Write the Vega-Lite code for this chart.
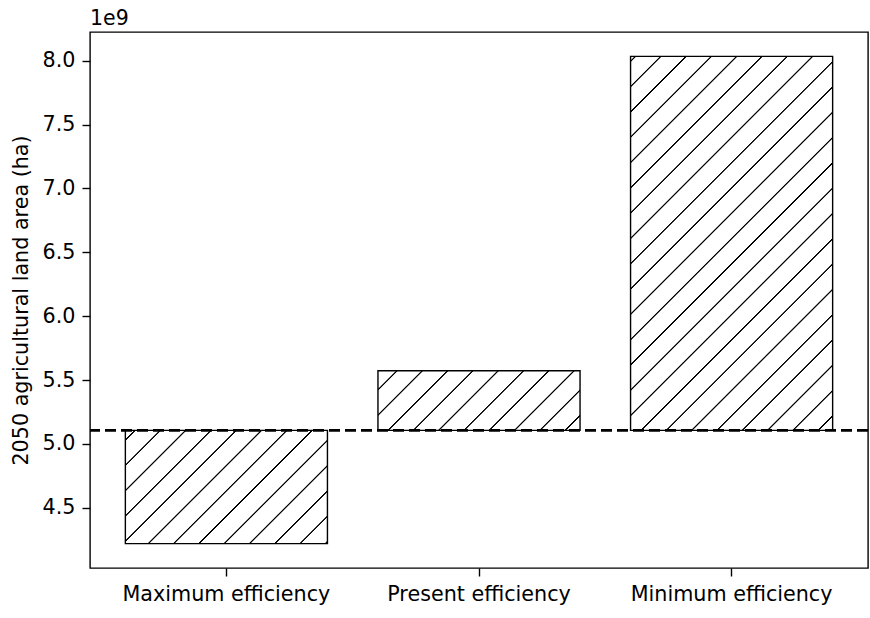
{
  "$schema": "https://vega.github.io/schema/vega-lite/v6.json",
  "autosize": {"type": "none"},
  "padding": {"left": 90, "top": 32, "right": 2, "bottom": 50},
  "width": 778,
  "height": 536,
  "background": "white",
  "title": {"text": "1e9", "anchor": "start", "frame": "group", "font": "DejaVu Sans", "fontSize": 20.5, "fontWeight": "normal", "color": "black", "offset": 3},
  "config": {
    "view": {"stroke": "black", "strokeWidth": 1.4},
    "axis": {"labelFont": "DejaVu Sans", "titleFont": "DejaVu Sans", "labelFontSize": 20.7, "titleFontSize": 20.7, "labelColor": "black", "titleColor": "black", "tickColor": "black", "domain": false, "grid": false, "tickSize": 8, "tickWidth": 1.4, "titleFontWeight": "normal", "labelLimit": 0}
  },
  "datasets": {
    "bars": [
      {"scenario": "Maximum efficiency", "area": 4219000000, "baseline": 5106000000},
      {"scenario": "Present efficiency", "area": 5573000000, "baseline": 5106000000},
      {"scenario": "Minimum efficiency", "area": 8034000000, "baseline": 5106000000}
    ],
    "ref": [{"baseline": 5106000000}]
  },
  "layer": [
    {
      "data": {"name": "bars"},
      "encoding": {
        "x": {"field": "scenario", "type": "nominal", "scale": {"domain": ["Maximum efficiency", "Present efficiency", "Minimum efficiency"], "paddingInner": 0.2, "paddingOuter": 0.14}, "axis": {"title": null, "labelAngle": 0, "labelPadding": 8}},
        "y": {"field": "area", "type": "quantitative", "scale": {"domain": [4028000000, 8225000000], "nice": false, "zero": false}, "axis": {"title": "2050 agricultural land area (ha)", "values": [4500000000, 5000000000, 5500000000, 6000000000, 6500000000, 7000000000, 7500000000, 8000000000], "labelExpr": "format(datum.value / 1e9, '.1f')", "labelPadding": 7, "titlePadding": 11}},
        "y2": {"field": "baseline"}
      },
      "layer": [
        {
          "transform": [{"filter": "datum.scenario === 'Maximum efficiency'"}],
          "mark": {"type": "bar", "stroke": "black", "strokeWidth": 1.4, "fill": {"gradient": "linear", "x1": 0, "y1": 0, "x2": 1.1874, "y2": 0.6657, "stops": [
            {"offset": 0, "color": "white"},
            {"offset": 0.0268, "color": "white"}, {"offset": 0.0293, "color": "black"}, {"offset": 0.0325, "color": "black"}, {"offset": 0.0350, "color": "white"},
            {"offset": 0.1070, "color": "white"}, {"offset": 0.1095, "color": "black"}, {"offset": 0.1127, "color": "black"}, {"offset": 0.1152, "color": "white"},
            {"offset": 0.1872, "color": "white"}, {"offset": 0.1897, "color": "black"}, {"offset": 0.1929, "color": "black"}, {"offset": 0.1954, "color": "white"},
            {"offset": 0.2674, "color": "white"}, {"offset": 0.2700, "color": "black"}, {"offset": 0.2731, "color": "black"}, {"offset": 0.2757, "color": "white"},
            {"offset": 0.3476, "color": "white"}, {"offset": 0.3502, "color": "black"}, {"offset": 0.3534, "color": "black"}, {"offset": 0.3559, "color": "white"},
            {"offset": 0.4279, "color": "white"}, {"offset": 0.4304, "color": "black"}, {"offset": 0.4336, "color": "black"}, {"offset": 0.4361, "color": "white"},
            {"offset": 0.5081, "color": "white"}, {"offset": 0.5106, "color": "black"}, {"offset": 0.5138, "color": "black"}, {"offset": 0.5163, "color": "white"},
            {"offset": 0.5883, "color": "white"}, {"offset": 0.5908, "color": "black"}, {"offset": 0.5940, "color": "black"}, {"offset": 0.5965, "color": "white"},
            {"offset": 0.6685, "color": "white"}, {"offset": 0.6711, "color": "black"}, {"offset": 0.6742, "color": "black"}, {"offset": 0.6768, "color": "white"},
            {"offset": 0.7487, "color": "white"}, {"offset": 0.7513, "color": "black"}, {"offset": 0.7544, "color": "black"}, {"offset": 0.7570, "color": "white"},
            {"offset": 0.8290, "color": "white"}, {"offset": 0.8315, "color": "black"}, {"offset": 0.8347, "color": "black"}, {"offset": 0.8372, "color": "white"},
            {"offset": 0.9092, "color": "white"}, {"offset": 0.9117, "color": "black"}, {"offset": 0.9149, "color": "black"}, {"offset": 0.9174, "color": "white"},
            {"offset": 0.9894, "color": "white"}, {"offset": 0.9920, "color": "black"}, {"offset": 0.9951, "color": "black"}, {"offset": 0.9977, "color": "white"},
            {"offset": 1, "color": "white"}
          ]}}
        },
        {
          "transform": [{"filter": "datum.scenario === 'Present efficiency'"}],
          "mark": {"type": "bar", "stroke": "black", "strokeWidth": 1.4, "fill": {"gradient": "linear", "x1": 0, "y1": 0, "x2": 1.1913, "y2": 0.3514, "stops": [
            {"offset": 0, "color": "white"},
            {"offset": 0.0682, "color": "white"}, {"offset": 0.0712, "color": "black"}, {"offset": 0.0751, "color": "black"}, {"offset": 0.0781, "color": "white"},
            {"offset": 0.1649, "color": "white"}, {"offset": 0.1679, "color": "black"}, {"offset": 0.1717, "color": "black"}, {"offset": 0.1748, "color": "white"},
            {"offset": 0.2615, "color": "white"}, {"offset": 0.2646, "color": "black"}, {"offset": 0.2684, "color": "black"}, {"offset": 0.2715, "color": "white"},
            {"offset": 0.3582, "color": "white"}, {"offset": 0.3613, "color": "black"}, {"offset": 0.3651, "color": "black"}, {"offset": 0.3682, "color": "white"},
            {"offset": 0.4549, "color": "white"}, {"offset": 0.4580, "color": "black"}, {"offset": 0.4618, "color": "black"}, {"offset": 0.4648, "color": "white"},
            {"offset": 0.5516, "color": "white"}, {"offset": 0.5547, "color": "black"}, {"offset": 0.5585, "color": "black"}, {"offset": 0.5615, "color": "white"},
            {"offset": 0.6483, "color": "white"}, {"offset": 0.6513, "color": "black"}, {"offset": 0.6552, "color": "black"}, {"offset": 0.6582, "color": "white"},
            {"offset": 0.7450, "color": "white"}, {"offset": 0.7480, "color": "black"}, {"offset": 0.7518, "color": "black"}, {"offset": 0.7549, "color": "white"},
            {"offset": 0.8416, "color": "white"}, {"offset": 0.8447, "color": "black"}, {"offset": 0.8485, "color": "black"}, {"offset": 0.8516, "color": "white"},
            {"offset": 0.9383, "color": "white"}, {"offset": 0.9414, "color": "black"}, {"offset": 0.9452, "color": "black"}, {"offset": 0.9483, "color": "white"},
            {"offset": 1, "color": "white"}
          ]}}
        },
        {
          "transform": [{"filter": "datum.scenario === 'Minimum efficiency'"}],
          "mark": {"type": "bar", "stroke": "black", "strokeWidth": 1.4, "fill": {"gradient": "linear", "x1": 0, "y1": 0, "x2": 0.6444, "y2": 1.1922, "stops": [
            {"offset": 0, "color": "white"},
            {"offset": 0.00632, "color": "white"}, {"offset": 0.00771, "color": "black"}, {"offset": 0.00945, "color": "black"}, {"offset": 0.01083, "color": "white"},
            {"offset": 0.05025, "color": "white"}, {"offset": 0.05163, "color": "black"}, {"offset": 0.05337, "color": "black"}, {"offset": 0.05476, "color": "white"},
            {"offset": 0.09417, "color": "white"}, {"offset": 0.09556, "color": "black"}, {"offset": 0.09730, "color": "black"}, {"offset": 0.09868, "color": "white"},
            {"offset": 0.13810, "color": "white"}, {"offset": 0.13948, "color": "black"}, {"offset": 0.14122, "color": "black"}, {"offset": 0.14261, "color": "white"},
            {"offset": 0.18202, "color": "white"}, {"offset": 0.18341, "color": "black"}, {"offset": 0.18515, "color": "black"}, {"offset": 0.18653, "color": "white"},
            {"offset": 0.22595, "color": "white"}, {"offset": 0.22733, "color": "black"}, {"offset": 0.22907, "color": "black"}, {"offset": 0.23046, "color": "white"},
            {"offset": 0.26987, "color": "white"}, {"offset": 0.27126, "color": "black"}, {"offset": 0.27300, "color": "black"}, {"offset": 0.27438, "color": "white"},
            {"offset": 0.31380, "color": "white"}, {"offset": 0.31518, "color": "black"}, {"offset": 0.31692, "color": "black"}, {"offset": 0.31831, "color": "white"},
            {"offset": 0.35772, "color": "white"}, {"offset": 0.35911, "color": "black"}, {"offset": 0.36085, "color": "black"}, {"offset": 0.36223, "color": "white"},
            {"offset": 0.40165, "color": "white"}, {"offset": 0.40303, "color": "black"}, {"offset": 0.40477, "color": "black"}, {"offset": 0.40616, "color": "white"},
            {"offset": 0.44557, "color": "white"}, {"offset": 0.44696, "color": "black"}, {"offset": 0.44870, "color": "black"}, {"offset": 0.45008, "color": "white"},
            {"offset": 0.48950, "color": "white"}, {"offset": 0.49088, "color": "black"}, {"offset": 0.49262, "color": "black"}, {"offset": 0.49401, "color": "white"},
            {"offset": 0.53342, "color": "white"}, {"offset": 0.53481, "color": "black"}, {"offset": 0.53655, "color": "black"}, {"offset": 0.53793, "color": "white"},
            {"offset": 0.57735, "color": "white"}, {"offset": 0.57873, "color": "black"}, {"offset": 0.58047, "color": "black"}, {"offset": 0.58186, "color": "white"},
            {"offset": 0.62127, "color": "white"}, {"offset": 0.62266, "color": "black"}, {"offset": 0.62440, "color": "black"}, {"offset": 0.62578, "color": "white"},
            {"offset": 0.66520, "color": "white"}, {"offset": 0.66658, "color": "black"}, {"offset": 0.66832, "color": "black"}, {"offset": 0.66971, "color": "white"},
            {"offset": 0.70912, "color": "white"}, {"offset": 0.71051, "color": "black"}, {"offset": 0.71225, "color": "black"}, {"offset": 0.71363, "color": "white"},
            {"offset": 0.75305, "color": "white"}, {"offset": 0.75443, "color": "black"}, {"offset": 0.75617, "color": "black"}, {"offset": 0.75756, "color": "white"},
            {"offset": 0.79697, "color": "white"}, {"offset": 0.79836, "color": "black"}, {"offset": 0.80010, "color": "black"}, {"offset": 0.80148, "color": "white"},
            {"offset": 0.84090, "color": "white"}, {"offset": 0.84228, "color": "black"}, {"offset": 0.84402, "color": "black"}, {"offset": 0.84541, "color": "white"},
            {"offset": 0.88482, "color": "white"}, {"offset": 0.88621, "color": "black"}, {"offset": 0.88795, "color": "black"}, {"offset": 0.88933, "color": "white"},
            {"offset": 0.92875, "color": "white"}, {"offset": 0.93013, "color": "black"}, {"offset": 0.93187, "color": "black"}, {"offset": 0.93326, "color": "white"},
            {"offset": 0.97267, "color": "white"}, {"offset": 0.97406, "color": "black"}, {"offset": 0.97580, "color": "black"}, {"offset": 0.97718, "color": "white"},
            {"offset": 1, "color": "white"}
          ]}}
        }
      ]
    },
    {
      "data": {"name": "ref"},
      "mark": {"type": "rule", "color": "black", "strokeWidth": 2.6, "strokeDash": [11, 5]},
      "encoding": {"y": {"field": "baseline", "type": "quantitative"}}
    }
  ]
}
